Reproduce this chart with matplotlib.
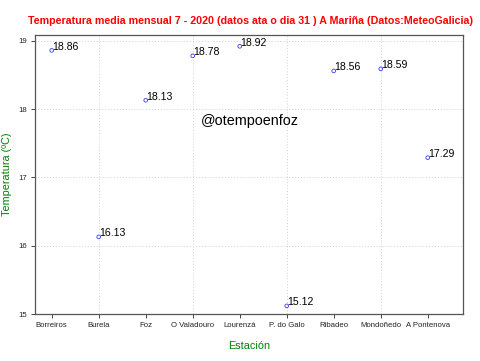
import matplotlib
matplotlib.use("Agg")
import matplotlib.pyplot as plt

plt.rcParams['font.family'] = ['Liberation Sans', 'DejaVu Sans']

# estacions e temperaturas medias
estacions = ['Borreiros', 'Burela', 'Foz', 'O Valadouro', 'Lourenzá',
             'P. do Galo', 'Ribadeo', 'Mondoñedo', 'A Pontenova']
temperaturas = [18.86, 16.13, 18.13, 18.78, 18.92, 15.12, 18.56, 18.59, 17.29]
yticks = [15, 16, 17, 18, 19]

fig = plt.figure(figsize=(4.81, 3.61), dpi=100)
ax = fig.add_axes([0.0728, 0.130, 0.8898, 0.772])

xs = list(range(1, len(estacions) + 1))

# grella punteada
for x in xs[1::2]:
    ax.axvline(x, color='#d0d0d0', lw=0.7, ls=(0, (1, 2)), zorder=0)
for y in yticks[1:]:
    ax.axhline(y, color='#d0d0d0', lw=0.7, ls=(0, (1, 2)), zorder=0)

ax.scatter(xs, temperaturas, s=7, facecolors='none', edgecolors='#3b3bff',
           linewidths=0.6, zorder=3)
for x, t in zip(xs, temperaturas):
    ax.annotate(f'{t:.2f}', (x, t), xytext=(0.5, 2.5), textcoords='offset points',
                ha='left', va='center', fontsize=7.6, color='black')

ax.text(5.22, 17.83, '@otempoenfoz', ha='center', va='center', fontsize=10.4)

ax.set_xlim(0.645, 9.75)
ax.set_ylim(15.0, 19.08)
ax.set_xticks(xs)
ax.set_xticklabels(estacions)
ax.set_yticks(yticks)
ax.tick_params(axis='both', direction='out', length=3, width=0.7, colors='#444444',
               labelsize=5.6, labelcolor='#222222', pad=3)
ax.tick_params(top=False, right=False)
for sp in ax.spines.values():
    sp.set_color('#555555')
    sp.set_linewidth(0.9)

ax.set_xlabel('Estación', color='#008000', fontsize=7.8, labelpad=8)
ax.set_ylabel('Temperatura (ºC)', color='#008000', fontsize=7.8, labelpad=4)

fig.suptitle('Temperatura media mensual 7 - 2020 (datos ata o dia 31 ) A Mariña (Datos:MeteoGalicia)',
             color='red', fontsize=7.7, fontweight='bold', x=0.52, y=0.955)

fig.savefig('out.png', dpi=100)
